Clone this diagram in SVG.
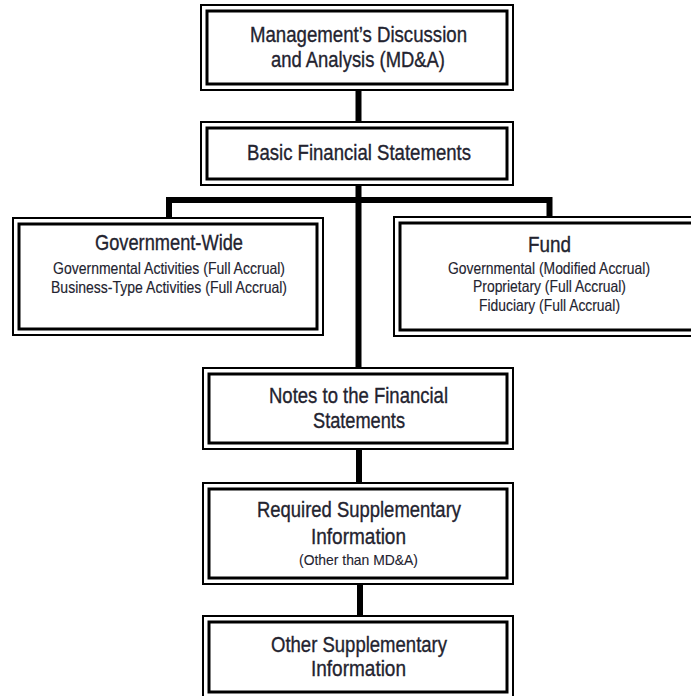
<svg xmlns="http://www.w3.org/2000/svg" width="691" height="696" viewBox="0 0 691 696">
<style>
.o{fill:none;stroke:#000;stroke-width:2}
.i{fill:none;stroke:#000;stroke-width:3}
.t{font-family:"Liberation Sans Narrow","Liberation Sans",Arial,sans-serif;font-size:22px;fill:#23232f;stroke:#23232f;stroke-width:0.35;text-anchor:middle}
.s{font-family:"Liberation Sans Narrow","Liberation Sans",Arial,sans-serif;font-size:16.5px;fill:#23232f;stroke:#23232f;stroke-width:0.15;text-anchor:middle}
.x{font-family:"Liberation Sans Narrow","Liberation Sans",Arial,sans-serif;font-size:14.5px;fill:#23232f;stroke:#23232f;stroke-width:0.1;text-anchor:middle}
.c{fill:none;stroke:#000;stroke-width:6;stroke-linejoin:miter}
</style>
<rect width="691" height="696" fill="#fff"/>
<g id="connectors">
<path class="c" d="M358.5 90V122"/>
<path class="c" d="M358.5 185V368"/>
<path class="c" d="M169 218V200H549.5V217"/>
<path class="c" d="M359 449V483"/>
<path class="c" d="M360 584V616"/>
</g>
<g id="mdna">
<rect class="o" x="201" y="5" width="312" height="85"/>
<rect class="i" x="207" y="11" width="300" height="73"/>
<text class="t" x="358.5" y="42" textLength="217" lengthAdjust="spacingAndGlyphs">Management’s Discussion</text>
<text class="t" x="358" y="67" textLength="174" lengthAdjust="spacingAndGlyphs">and Analysis (MD&amp;A)</text>
</g>
<g id="basic">
<rect class="o" x="201" y="122" width="312" height="63"/>
<rect class="i" x="207" y="128" width="300" height="51"/>
<text class="t" x="359" y="160" textLength="224" lengthAdjust="spacingAndGlyphs">Basic Financial Statements</text>
</g>
<g id="govwide">
<rect class="o" x="13" y="218" width="310" height="117"/>
<rect class="i" x="19" y="224" width="298" height="105"/>
<text class="t" x="169" y="250" textLength="148" lengthAdjust="spacingAndGlyphs">Government-Wide</text>
<text class="s" x="169" y="274" textLength="232" lengthAdjust="spacingAndGlyphs">Governmental Activities (Full Accrual)</text>
<text class="s" x="169" y="293" textLength="236" lengthAdjust="spacingAndGlyphs">Business-Type Activities (Full Accrual)</text>
</g>
<g id="fund">
<rect class="o" x="394" y="217" width="310" height="119"/>
<rect class="i" x="400" y="223" width="300" height="107"/>
<text class="t" x="549.5" y="252" textLength="43" lengthAdjust="spacingAndGlyphs">Fund</text>
<text class="s" x="549" y="274" textLength="202" lengthAdjust="spacingAndGlyphs">Governmental (Modified Accrual)</text>
<text class="s" x="549.5" y="292" textLength="153" lengthAdjust="spacingAndGlyphs">Proprietary (Full Accrual)</text>
<text class="s" x="549.5" y="311" textLength="141" lengthAdjust="spacingAndGlyphs">Fiduciary (Full Accrual)</text>
</g>
<g id="notes">
<rect class="o" x="203" y="368" width="310" height="81"/>
<rect class="i" x="209" y="374" width="298" height="69"/>
<text class="t" x="358.5" y="403" textLength="179" lengthAdjust="spacingAndGlyphs">Notes to the Financial</text>
<text class="t" x="359" y="428" textLength="92" lengthAdjust="spacingAndGlyphs">Statements</text>
</g>
<g id="rsi">
<rect class="o" x="203" y="483" width="310" height="101"/>
<rect class="i" x="209" y="489" width="298" height="89"/>
<text class="t" x="359" y="517" textLength="204" lengthAdjust="spacingAndGlyphs">Required Supplementary</text>
<text class="t" x="358.5" y="544" textLength="95" lengthAdjust="spacingAndGlyphs">Information</text>
<text class="x" x="358.5" y="565" textLength="119" lengthAdjust="spacingAndGlyphs">(Other than MD&amp;A)</text>
</g>
<g id="osi">
<rect class="o" x="203" y="616" width="310" height="82"/>
<rect class="i" x="209" y="622" width="298" height="70"/>
<text class="t" x="359" y="652" textLength="176" lengthAdjust="spacingAndGlyphs">Other Supplementary</text>
<text class="t" x="358.5" y="676" textLength="95" lengthAdjust="spacingAndGlyphs">Information</text>
</g>
</svg>
